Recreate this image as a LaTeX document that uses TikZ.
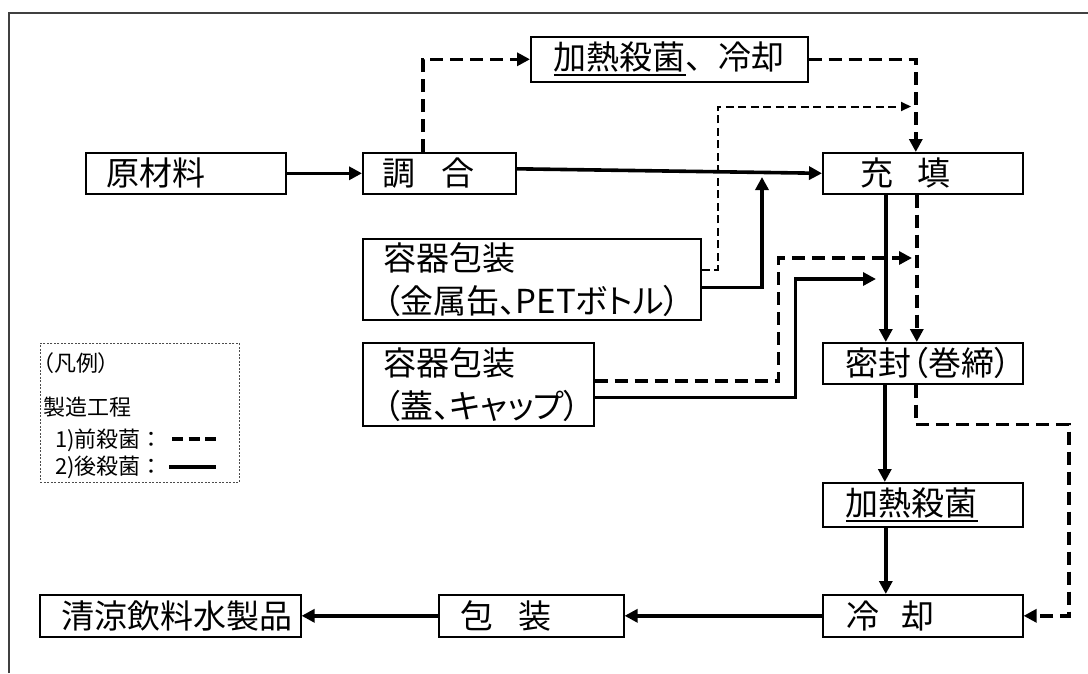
\documentclass[tikz,border=0pt]{standalone}
\usepackage{fontspec}
\setmainfont{Noto Sans CJK JP}
\newfontfamily\jpp[RawFeature=+palt]{Noto Sans CJK JP}
\usetikzlibrary{arrows.meta}
\newsavebox\ulxbox
\newcommand\ulx[1]{\leavevmode\sbox\ulxbox{#1}\rlap{\vrule height -4.5pt depth 6.5pt width \wd\ulxbox}\usebox\ulxbox}
\begin{document}
\begin{tikzpicture}[x=1pt,y=-1pt,line join=miter,
  box/.style={draw, line width=1.6pt, inner sep=0pt, anchor=north west, align=left,
    font=\fontsize{33pt}{43pt}\selectfont},
  solidline/.style={line width=3.6pt},
  thickdash/.style={line width=3.6pt, dash pattern=on 13pt off 7pt},
  thindash/.style={line width=2pt, dash pattern=on 8pt off 4.5pt},
  tip/.style={-{Triangle[length=13pt,width=13pt]}},
  smalltip/.style={-{Triangle[length=10pt,width=9pt]}},
  legbox/.style={draw=black!70, line width=0.9pt, dash pattern=on 2pt off 1.5pt, inner sep=0pt, anchor=north west},
  legtext/.style={anchor=west, inner sep=0pt, font=\fontsize{22pt}{26pt}\selectfont}
]
\useasboundingbox (0,0) rectangle (1088,673);
\draw[line width=1.5pt, black!75] (9,673) -- (9,13) -- (1088,13);

% boxes
\node[box, minimum width=200pt, minimum height=41pt, text width=200pt] (genzai) at (85,152) {\hspace*{21pt}原材料};
\node[box, minimum width=153pt, minimum height=41pt, text width=153pt] (tyo) at (362,152) {\hspace*{20pt}調\hspace{26pt}合};
\node[box, minimum width=277pt, minimum height=45pt, text width=277pt] (kanetsu1) at (530,36) {\hspace*{23pt}\ulx{加熱殺菌}、冷却};
\node[box, minimum width=200pt, minimum height=41pt, text width=200pt] (juten) at (822,152) {\hspace*{38pt}充\hspace{24pt}填};
\node[box, minimum width=338pt, minimum height=81pt, text width=338pt] (yoki1) at (362,238) {\hspace*{21pt}容器包装\\\hspace*{21pt}{\jpp （金属缶、PETボトル）}};
\node[box, minimum width=231pt, minimum height=83pt, text width=231pt] (yoki2) at (362,342) {\hspace*{21pt}容器包装\\\hspace*{21pt}{\jpp （蓋、キャップ）}};
\node[box, minimum width=200pt, minimum height=41pt, text width=200pt] (mippu) at (822,342) {\hspace*{23pt}{\jpp 密封（巻締）}};
\node[box, minimum width=200pt, minimum height=44pt, text width=200pt] (kanetsu2) at (822,482) {\hspace*{23pt}\ulx{加熱殺菌}};
\node[box, minimum width=200pt, minimum height=42pt, text width=200pt] (reikyaku) at (822,594) {\hspace*{24pt}冷\hspace{22pt}却};
\node[box, minimum width=185pt, minimum height=42pt, text width=185pt] (housou) at (438,594) {\hspace*{22pt}包\hspace{25pt}装};
\node[box, minimum width=261pt, minimum height=42pt, text width=261pt] (seiryo) at (39,594) {\hspace*{22pt}清涼飲料水製品};

% connectors
\draw[solidline,tip] (genzai.east) -- (tyo.west);
\draw[solidline,tip] ([yshift=4.5pt]tyo.east) -- (juten.west);
\draw[thickdash,tip] ([xshift=-16.5pt]tyo.north) |- (kanetsu1.west);
\draw[thickdash,tip] (kanetsu1.east) -| ([xshift=-7pt]juten.north);

\coordinate (j1) at (911,106.5);
\draw[thindash,smalltip] ([yshift=9.5pt]yoki1.east) -- ++(16,0) |- (j1);
\coordinate (j2) at (762,177);
\draw[solidline,tip] ([yshift=-8pt]yoki1.east) -| (j2);
\coordinate (j3) at (912,258);
\draw[thickdash,tip] ([yshift=3.5pt]yoki2.east) -- ++(184,0) |- (j3);
\coordinate (j4) at (876,279);
\draw[solidline,tip] ([yshift=-13pt]yoki2.east) -- ++(201,0) |- (j4);

\draw[solidline,tip] ([xshift=-37pt]juten.south) -- ([xshift=-37pt]mippu.north);
\draw[thickdash,tip] ([xshift=-6pt]juten.south) -- ([xshift=-6pt]mippu.north);
\draw[solidline,tip] ([xshift=-38pt]mippu.south) -- ([xshift=-38pt]kanetsu2.north);
\draw[solidline,tip] ([xshift=-37pt]kanetsu2.south) -- ([xshift=-37pt]reikyaku.north);
\draw[thickdash,tip] ([xshift=-7pt]mippu.south) |- ++(153,40) |- (reikyaku.east);
\draw[solidline,tip] (reikyaku.west) -- (housou.east);
\draw[solidline,tip] (housou.west) -- (seiryo.east);

% legend
\node[legbox, minimum width=199pt, minimum height=139pt] (legend) at (40,343) {};
\node[legtext] (lg1) at (43,363) {\jpp （凡例）};
\node[legtext] (lg2) at (43,407) {製造工程};
\node[legtext] (lg3) at (55,440) {1)前殺菌：};
\node[legtext] (lg4) at (55,467) {2)後殺菌：};
\draw[line width=3.5pt, dash pattern=on 11pt off 5.5pt] (172,439) -- (216,439);
\draw[line width=3.5pt] (169,467) -- (216,467);
\end{tikzpicture}
\end{document}
